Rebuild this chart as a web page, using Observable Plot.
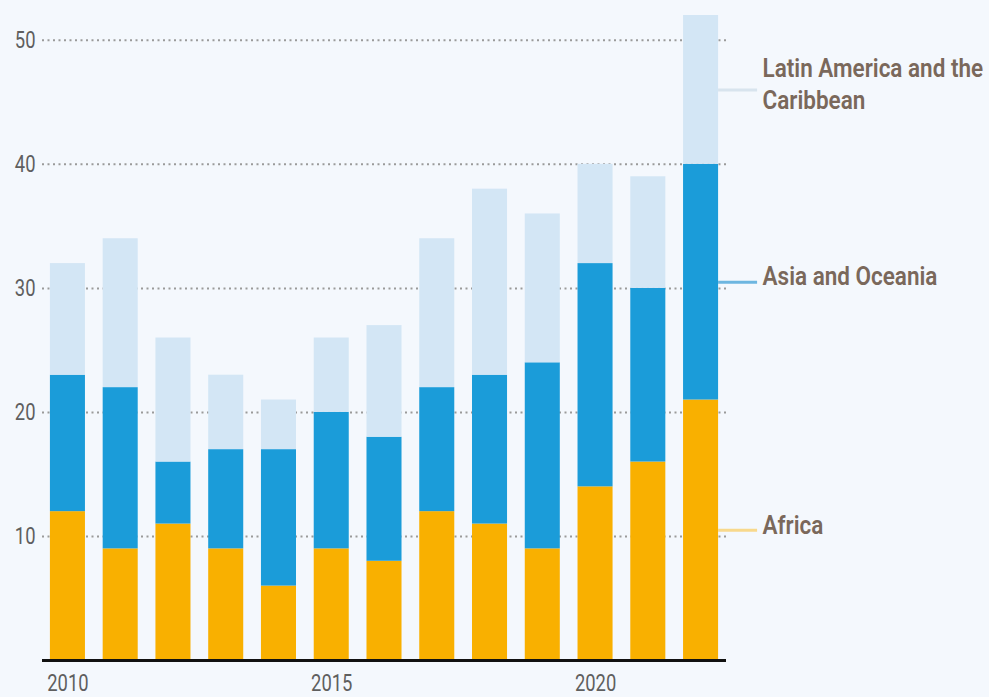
<!DOCTYPE html>
<html>
<head>
<meta charset="utf-8">
<script src="https://cdn.jsdelivr.net/npm/d3@7"></script>
<script src="https://cdn.jsdelivr.net/npm/@observablehq/plot@0.6"></script>
<style>
  html, body { margin: 0; padding: 0; background: #F4F8FD; }
  #chart svg { display: block; }
</style>
</head>
<body>
<div id="chart"></div>
<script>
const years = [2010, 2011, 2012, 2013, 2014, 2015, 2016, 2017, 2018, 2019, 2020, 2021, 2022];
const seriesNames = ["Africa", "Asia and Oceania", "Latin America and the Caribbean"];
const africa = [12, 9, 11, 9, 6, 9, 8, 12, 11, 9, 14, 16, 21];
const asiaOceania = [11, 13, 5, 8, 11, 11, 10, 10, 12, 15, 18, 14, 19];
const latinAmerica = [9, 12, 10, 6, 4, 6, 9, 12, 15, 12, 8, 9, 12];
const seriesColors = ["#F9B000", "#1B9CD9", "#D3E6F5"];
const lineColors = ["#F8D98C", "#6DB6E0", "#D8E4EE"];
const labelTexts = ["Africa", "Asia and Oceania", "Latin America and the\nCaribbean"];
const yTicks = [10, 20, 30, 40, 50];
const xTicks = [2010, 2015, 2020];

const allSeries = [africa, asiaOceania, latinAmerica];
const rows = [];
allSeries.forEach((vals, s) => {
  vals.forEach((v, i) => rows.push({year: years[i], series: seriesNames[s], value: v}));
});

// label positions: middle of last year's segment
const last = years.length - 1;
const labels = [];
let base = 0;
allSeries.forEach((vals, s) => {
  const v = vals[last];
  labels.push({year: years[last], series: seriesNames[s], mid: base + v / 2, text: labelTexts[s]});
  base += v;
});

const fontMain = "Roboto, 'Liberation Sans Narrow', sans-serif";

const chart = Plot.plot({
  width: 989,
  height: 697,
  marginLeft: 42,
  marginRight: 263,
  marginTop: 15,
  marginBottom: 37,
  style: {background: "#F4F8FD", fontFamily: fontMain, fontSize: "23px", color: "#5f5f5f"},
  x: {type: "band", domain: years, padding: 0.336, paddingOuter: 0.15, align: 0.5, round: false, label: null},
  y: {domain: [0, 52], label: null},
  color: {domain: seriesNames, range: seriesColors},
  marks: [
    Plot.ruleY(yTicks, {stroke: "#9a9a9a", strokeWidth: 2, strokeDasharray: "2,3.5"}),
    Plot.barY(rows, {x: "year", y: "value", fill: "series", order: seriesNames}),
    Plot.ruleY(labels, {y: "mid", x1: "year", x2: "year", stroke: (d, i) => lineColors[i], strokeWidth: 3, insetLeft: 35, insetRight: -39}),
    Plot.text(labels, {x: "year", y: "mid", text: "text", dx: 61.5, dy: -7, textAnchor: "start", lineAnchor: "middle", lineHeight: 1.28, fill: "#7A685B", fontSize: 25, fontWeight: 600, className: "series-label"}),
    Plot.ruleY([0], {stroke: "#111", strokeWidth: 3}),
    Plot.axisY({ticks: yTicks, tickSize: 0, tickPadding: 7, fontSize: 23, fill: "#5f5f5f", className: "tick-y"}),
    Plot.axisX({ticks: xTicks, tickFormat: d => String(d), tickSize: 0, tickPadding: 14, fontSize: 23, fill: "#5f5f5f", className: "tick-x"})
  ]
});
document.getElementById("chart").appendChild(chart);

// condense the text horizontally around its anchor to mimic a narrow typeface
const condense = (sel, k) => {
  d3.select(chart).selectAll(sel).each(function () {
    const t = this.getAttribute("transform") || "";
    this.setAttribute("transform", t + ` scale(${k},1)`);
  });
};
condense(".tick-y text, .tick-x text", 0.8);
condense(".series-label text", 0.9);
</script>
</body>
</html>
